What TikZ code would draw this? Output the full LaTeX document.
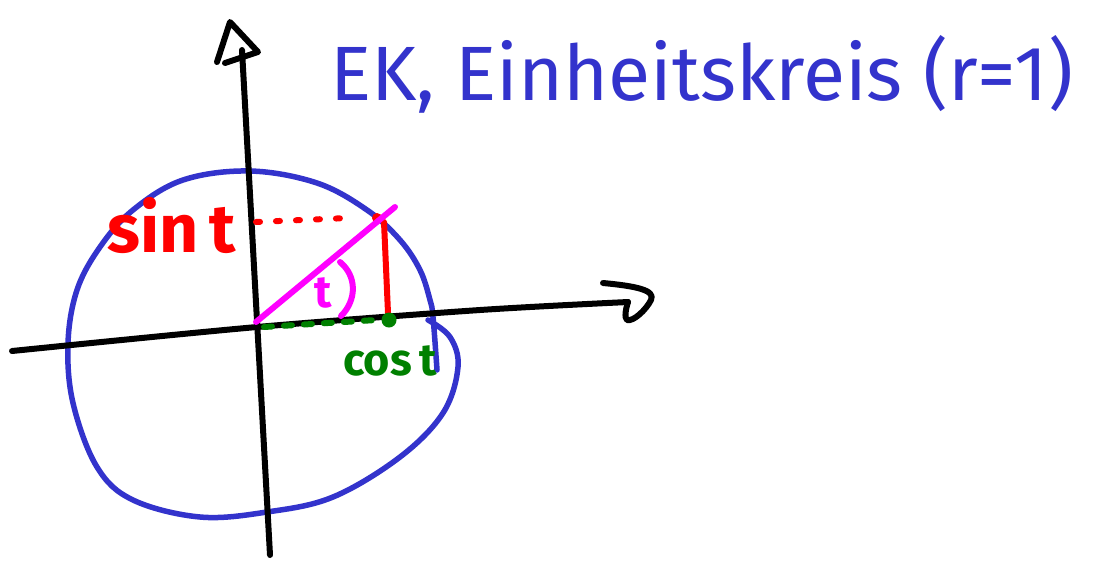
\documentclass[tikz,border=0pt]{standalone}
\usepackage{fontspec}
\setmainfont{Fira Sans}
\definecolor{penblue}{RGB}{51,51,204}
\definecolor{penred}{RGB}{255,0,0}
\definecolor{penmag}{RGB}{255,0,255}
\definecolor{pengreen}{RGB}{0,128,0}
\begin{document}
\begin{tikzpicture}[x=1pt,y=-1pt,
  pen/.style={line width=6pt,line cap=round,line join=round},
  lbl/.style={inner sep=0pt,anchor=base west}]
\useasboundingbox (0,0) rectangle (1099,560);
\fill[white] (0,0) rectangle (1099,560);

% unit circle
\draw[pen,penblue,line width=5.5pt] plot[smooth,tension=0.6] coordinates {(437,370) (433,317) (430,300) (420,270) (400,240) (367,210) (317,183) (250,171) (183,180) (133,210) (100,247) (77,290) (68,343) (73,403) (97,467) (133,500) (200,517) (267,512) (333,497) (400,457) (443,413) (458,367) (450,337) (428,320)};

% axes
\coordinate (xl) at (12,351);
\coordinate (xr) at (628,302);
\coordinate (yb) at (270,555);
\coordinate (yt) at (242,50);
\draw[pen,black] plot[smooth] coordinates {(xl) (257,327) (480,310) (xr)};
\draw[pen,black] (603,283) .. controls (635,286) and (656,290) .. (651,300) .. controls (646,310) and (633,322) .. (627,320) .. controls (624,318) and (626,308) .. (xr);
\draw[pen,black] (yb) -- (yt);
\draw[pen,black] (217,62) -- (230,22) -- (258,52) -- (225,63);

% sine
\coordinate (P) at (377,218);
\draw[pen,penred,dash pattern=on 4pt off 16pt] (256,222) -- (348,218);
\fill[penred] (P) circle (5);
\draw[pen,penred] (384,222) -- (388,313);

% radius and angle
\coordinate (O) at (256,322);
\coordinate (R) at (395,207);
\draw[pen,penmag] (O) -- (R);
\draw[pen,penmag] (340,262) .. controls (357,276) and (357,300) .. (341,316);

% cosine
\coordinate (C) at (389,320);
\draw[pen,pengreen,dash pattern=on 8pt off 12pt] (264,327) -- (376,320);
\fill[pengreen] (C) circle (7.5);

% labels
\node[lbl,penred,font=\fontsize{68}{68}\selectfont\bfseries] (sint) at (107,252) {sin\,t};
\node[lbl,pengreen,font=\fontsize{45}{45}\selectfont\bfseries] (cost) at (343,375) {cos\,t};
\node[penmag,inner sep=0pt,font=\fontsize{45}{45}\selectfont\bfseries] (t) at (323,293) {t};
\node[lbl,penblue,font=\fontsize{77}{77}\selectfont] (title) at (330,100) {EK, Einheitskreis (r=1)};
\end{tikzpicture}
\end{document}
